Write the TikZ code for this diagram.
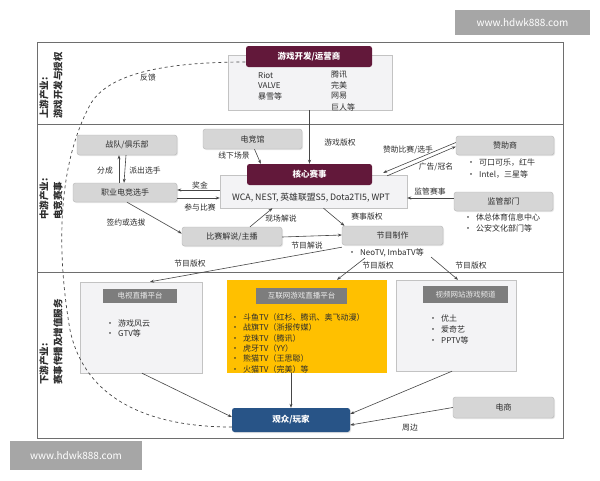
\documentclass[tikz,border=0pt]{standalone}
\usepackage{fontspec}
\setmainfont{Noto Sans CJK SC}
\usetikzlibrary{arrows.meta,shadows}
\definecolor{maroon}{RGB}{98,24,58}
\definecolor{boxgray}{RGB}{214,214,214}
\definecolor{hdrgray}{RGB}{125,125,125}
\definecolor{cont}{RGB}{243,243,245}
\definecolor{contline}{RGB}{195,195,195}
\definecolor{ygold}{RGB}{255,192,0}
\definecolor{aud}{RGB}{40,84,135}
\definecolor{wm}{RGB}{166,166,166}
\definecolor{txt}{RGB}{45,45,45}
\definecolor{lin}{RGB}{70,70,70}
\definecolor{frame}{RGB}{110,110,110}
\begin{document}
\begin{tikzpicture}[x=1pt,y=-1pt,
 every node/.style={font=\fontsize{8}{9}\selectfont, text=txt, inner sep=0pt},
 gbox/.style={draw=boxgray!85!black, fill=boxgray, rounded corners=2.5pt, drop shadow={opacity=0.2,shadow xshift=1pt,shadow yshift=-1pt}},
 mbox/.style={fill=maroon, rounded corners=2.5pt, text=white, font=\fontsize{8.5}{9}\selectfont\bfseries},
 bgbox/.style={draw=contline, fill=cont},
 hbox/.style={fill=hdrgray, text=white!92!black, font=\fontsize{7.5}{8}\selectfont},
 arr/.style={draw=lin, line width=0.6pt, -{Stealth[length=4pt,width=3pt]}},
 lbl/.style={font=\fontsize{7.8}{8}\selectfont},
 sec/.style={rotate=90, anchor=west, font=\fontsize{9.5}{10}\selectfont\bfseries},
 item/.style={anchor=west, font=\fontsize{8}{9}\selectfont},
 wmark/.style={fill=wm, text=white, font=\fontsize{10}{11}\selectfont},
]
\useasboundingbox (0,0) rectangle (600,480);
\fill[white] (0,0) rectangle (600,480);

% watermarks
\node[wmark, minimum width=135pt, minimum height=25pt] (wm1) at (522.5,22.5) {www.hdwk888.com};
\node[wmark, minimum width=132pt, minimum height=29pt] (wm2) at (76,455.5) {www.hdwk888.com};

% frame and dividers
\draw[frame, line width=0.8pt] (37,42) rectangle (563,438);
\draw[frame, line width=0.8pt] (37,124) -- (563,124);
\draw[frame, line width=0.8pt] (37,272) -- (563,272);

% section labels
\node[sec] (s1a) at (44,119) {上游产业:};
\node[sec] (s1b) at (58,119) {游戏开发与授权};
\node[sec] (s2a) at (44,220) {中游产业:};
\node[sec] (s2b) at (58,220) {电竞赛事};
\node[sec] (s3a) at (44,385) {下游产业:};
\node[sec] (s3b) at (58,385) {赛事传播及增值服务};

% upstream
\node[bgbox, minimum width=164pt, minimum height=55pt] (devbg) at (310,82.5) {};
\node[mbox, minimum width=126pt, minimum height=21pt] (devmain) at (309,56.5) {游戏开发/运营商};
\node[item] (d1) at (258,75) {Riot};
\node[item] (d2) at (258,85.5) {VALVE};
\node[item] (d3) at (258,96) {暴雪等};
\node[item] (d4) at (331,75) {腾讯};
\node[item] (d5) at (331,85.5) {完美};
\node[item] (d6) at (331,96) {网易};
\node[item] (d7) at (331,107) {巨人等};

% midstream
\node[gbox, minimum width=100pt, minimum height=20pt] (team) at (127,145) {战队/俱乐部};
\node[gbox, minimum width=104pt, minimum height=19pt] (player) at (125,192.5) {职业电竞选手};
\node[gbox, minimum width=99pt, minimum height=20pt] (venue) at (252.5,139) {电竞馆};
\node[bgbox, minimum width=187pt, minimum height=33pt] (corebg) at (313.5,191.5) {};
\node[mbox, minimum width=125pt, minimum height=21pt] (coremain) at (309.5,174.5) {核心赛事};
\node[font=\fontsize{8.8}{9}\selectfont] (corelist) at (311,198) {WCA, NEST, 英雄联盟S5, Dota2TI5, WPT};
\node[gbox, minimum width=98pt, minimum height=19pt] (sponsor) at (505,145.5) {赞助商};
\node[item] (sp1) at (467,163) {\textbullet\enspace 可口可乐，红牛};
\node[item] (sp2) at (467,175) {\textbullet\enspace Intel，三星等};
\node[gbox, minimum width=99pt, minimum height=19pt] (reg) at (503.5,201.5) {监管部门};
\node[item] (rg1) at (464,217) {\textbullet\enspace 体总体育信息中心};
\node[item] (rg2) at (464,228.5) {\textbullet\enspace 公安文化部门等};
\node[gbox, minimum width=100pt, minimum height=19pt] (caster) at (232,236.5) {比赛解说/主播};
\node[gbox, minimum width=101pt, minimum height=19pt] (prod) at (392.5,235.5) {节目制作};
\node[item] (neo) at (348,253) {\textbullet\enspace NeoTV, ImbaTV等};

% downstream containers
\node[bgbox, minimum width=122pt, minimum height=91pt] (tv) at (141,327.5) {};
\node[hbox, minimum width=74pt, minimum height=14pt] (tvh) at (140,296) {电视直播平台};
\node[item] (tv1) at (106,323) {\textbullet\enspace 游戏风云};
\node[item] (tv2) at (106,333.5) {\textbullet\enspace GTV等};

\node[fill=ygold, minimum width=160pt, minimum height=93pt] (live) at (307,326.5) {};
\node[hbox, minimum width=91pt, minimum height=16pt] (liveh) at (301.5,296) {互联网游戏直播平台};
\node[item] (l1) at (231,317) {\textbullet\enspace 斗鱼TV（红杉、腾讯、奥飞动漫）};
\node[item] (l2) at (231,327.5) {\textbullet\enspace 战旗TV（浙报传媒）};
\node[item] (l3) at (231,338) {\textbullet\enspace 龙珠TV（腾讯）};
\node[item] (l4) at (231,348) {\textbullet\enspace 虎牙TV（YY）};
\node[item] (l5) at (231,358.5) {\textbullet\enspace 熊猫TV（王思聪）};
\node[item] (l6) at (231,369) {\textbullet\enspace 火猫TV（完美）等};

\node[bgbox, minimum width=120pt, minimum height=91pt] (video) at (456,325.5) {};
\node[hbox, minimum width=85pt, minimum height=17pt] (videoh) at (465.5,294.5) {视频网站游戏频道};
\node[item] (v1) at (429,318.5) {\textbullet\enspace 优土};
\node[item] (v2) at (429,329) {\textbullet\enspace 爱奇艺};
\node[item] (v3) at (429,340) {\textbullet\enspace PPTV等};

\node[fill=aud, rounded corners=2.5pt, minimum width=118pt, minimum height=24pt, text=white, font=\fontsize{8.5}{9}\selectfont\bfseries, drop shadow={opacity=0.2,shadow xshift=1pt,shadow yshift=-1pt}] (aud) at (291,420) {观众/玩家};
\node[gbox, minimum width=101pt, minimum height=21pt] (ecom) at (503.5,407.5) {电商};

% feedback curve
\draw[lin, dashed, line width=0.7pt] ([yshift=-7pt]aud.west) .. controls (150,427) and (85,400) .. (70,330)
  .. controls (58,260) and (55,170) .. (90,105)
  .. controls (108,72) and (170,62) .. ([yshift=-5.5pt]devmain.west);
\node[lbl] (fk) at (148,78) {反馈};

% upstream to core
\draw[arr] (devbg.south -| coremain.north) -- (coremain.north);
\node[lbl] (l_gr) at (340,143) {游戏版权};
\draw[arr] ([xshift=2pt]venue.south) -- ([xshift=14pt]coremain.north west);
\node[lbl] (l_xx) at (234,156) {线下场景};

% team <-> player
\coordinate (pa) at ([xshift=-6pt]player.north);
\draw[arr] (pa) -- (pa |- team.south);
\draw[arr] ([xshift=-1pt]team.south) -- ([xshift=-1pt]player.north);
\node[lbl] (l_fc) at (105,171) {分成};
\node[lbl] (l_pc) at (145,171) {派出选手};

% player <-> core
\draw[arr] (corebg.west |- 0,190) -- (player.east |- 0,190);
\draw[arr] (player.east |- 0,198) -- (corebg.west |- 0,198);
\node[lbl] (l_jj) at (200,185) {奖金};
\node[lbl] (l_cy) at (200,207.5) {参与比赛};

% player -> caster
\draw[arr] ([xshift=2pt]player.south) -- ([yshift=3pt]caster.west);
\node[lbl] (l_qy) at (126,223) {签约或选拔};

% caster -> core
\draw[arr] ([xshift=18pt]caster.north) -- ([xshift=-41pt]corebg.south);
\node[lbl] (l_xc) at (281,219) {现场解说};

% core -> prod
\draw[arr] ([xshift=10pt]corebg.south) -- ([xshift=-48pt]prod.north);
\node[lbl] (l_ss) at (367,217) {赛事版权};

% caster -> prod
\draw[arr] ([yshift=-0.5pt]caster.east) -- ([yshift=1.5pt]prod.west |- caster.east);
\node[lbl] (l_jjs) at (307,245.5) {节目解说};

% sponsor <-> core
\draw[arr] ([yshift=3pt]sponsor.west) -- ([xshift=-24pt,yshift=2pt]corebg.north east);
\draw[arr] ([xshift=-20pt,yshift=-1pt]corebg.north east) -- ([yshift=-1pt]sponsor.west);
\node[lbl] (l_zz) at (408,150) {赞助比赛/选手};
\node[lbl] (l_gg) at (436,167) {广告/冠名};

% regulator -> core
\draw[arr] (reg.west |- 0,198) -- (corebg.east |- 0,198);
\node[lbl] (l_jg) at (430,192) {监管赛事};

% program rights
\draw[arr] ([yshift=-2pt]prod.south west) -- ([xshift=9pt]tv.north);
\node[lbl] (l_b1) at (190,264) {节目版权};
\draw[arr] (365,258) -- ([xshift=30pt]live.north);
\node[lbl] (l_b2) at (378,266) {节目版权};
\draw[arr] (431,257) -- ([xshift=2pt]video.north);
\node[lbl] (l_b3) at (471,266) {节目版权};

% to audience
\draw[arr] ([xshift=1pt]tv.south) -- ([yshift=3pt]aud.west);
\draw[arr] (live.south -| aud.north) -- (aud.north);
\draw[arr] ([xshift=-4pt]video.south) -- ([yshift=6pt]aud.east);
\draw[arr] (ecom.west) -- ([yshift=-5pt]aud.east);
\node[lbl] (l_zb) at (410,428) {周边};
\end{tikzpicture}
\end{document}
